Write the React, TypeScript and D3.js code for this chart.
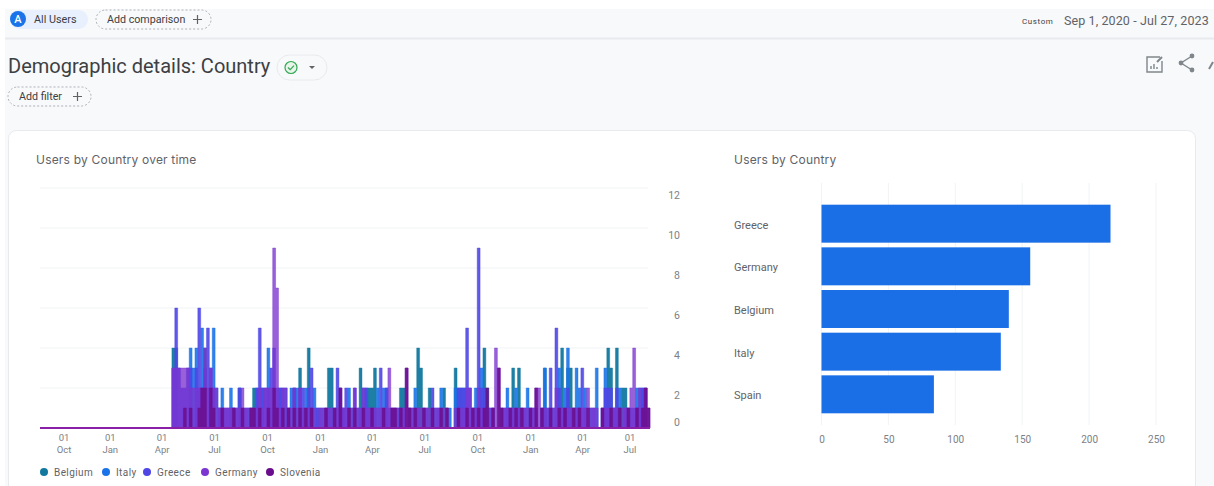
import * as d3 from "d3";
import React, { useEffect, useRef } from "react";

// 5 day buckets, first one starts at firstBucket
const rangeStart = new Date(2020, 8, 1);
const rangeEnd = new Date(2023, 6, 27);
const firstBucket = new Date(2021, 3, 18);
const bucketDays = 5;

const belgium = [
    4,4,0,0,0,0,2,0,0,0, 1,4,0,0,0,0,0,0,0,0, 0,0,0,2,0,0,0,0,2,0, 0,0,0,0,0,0,0,0,0,1,
    0,0,2,0,3,1,0,4,0,0, 0,0,0,0,3,3,0,0,0,0, 0,0,0,0,0,3,0,0,2,2, 3,0,0,0,0,0,0,0,0,2,
    2,0,0,0,0,4,3,0,0,2, 0,0,0,0,2,0,0,0,3,0, 2,0,0,0,0,0,0,0,4,2, 0,0,0,0,0,0,0,0,3,0,
    3,0,0,0,0,0,0,0,0,3, 0,0,0,0,0,4,0,3,3,0, 0,0,0,0,0,0,0,0,0,0, 0,4,3,0,4,0,2,2,0,0,
    0,0,0,0,0,0,
];
const italy = [
    0,0,0,0,0,0,4,3,4,2, 5,0,0,2,5,2,1,2,0,0, 2,1,0,2,0,0,1,0,0,2, 1,2,0,4,1,0,0,2,0,2,
    0,2,0,2,0,0,2,0,0,2, 1,0,1,0,0,1,1,0,0,1, 0,2,1,0,1,0,2,2,0,0, 0,2,0,2,2,0,1,0,1,0,
    0,0,1,0,2,0,0,1,0,0, 0,1,0,2,0,1,1,0,2,2, 0,2,0,0,1,2,1,3,0,0, 1,0,0,0,1,0,2,1,0,2,
    0,1,0,2,1,0,0,0,1,3, 1,0,1,0,3,0,2,4,0,1, 3,2,0,2,0,1,0,3,0,1, 3,0,0,1,0,2,0,0,1,0,
    0,2,2,2,0,0,
];
const greece = [
    3,6,3,2,2,3,3,0,3,6, 2,3,5,3,2,0,1,1,1,1, 1,1,1,2,1,1,0,1,1,2, 5,2,2,2,3,4,2,2,2,0,
    1,0,2,0,2,2,0,2,3,0, 1,1,0,1,1,0,0,3,2,1, 2,0,0,2,0,1,0,2,1,1, 1,0,3,0,2,1,0,1,0,1,
    1,0,0,1,0,1,0,0,1,0, 2,0,1,0,0,0,0,0,0,2, 2,2,5,2,0,1,9,2,2,0, 0,1,0,0,0,1,1,0,1,0,
    1,0,1,0,0,1,1,0,0,1, 0,3,0,5,2,1,1,2,1,0, 1,1,3,1,0,0,1,0,0,0, 2,2,2,1,2,1,0,1,0,1,
    1,1,1,2,2,0,
];
const germany = [
    3,3,3,3,3,3,2,2,2,2, 2,4,2,3,2,2,1,1,1,1, 1,1,1,1,2,1,1,1,1,1, 2,1,2,2,2,9,7,1,2,2,
    1,1,2,1,2,1,1,1,1,1, 0,1,1,1,1,1,1,1,2,1, 1,1,1,2,1,1,2,1,1,1, 1,1,1,1,1,3,1,1,1,1,
    1,3,1,1,1,1,1,1,1,1, 1,1,1,1,1,1,0,0,1,1, 1,1,2,2,1,1,2,1,1,1, 1,1,4,3,1,1,1,1,1,1,
    1,1,1,1,1,1,2,2,1,1, 1,1,1,2,1,1,1,1,1,1, 1,1,1,1,2,1,1,1,0,1, 1,1,1,1,1,1,1,1,1,2,
    4,1,2,1,2,1,
];
const slovenia = [
    0,0,0,0,1,0,1,0,0,1, 2,2,0,2,1,0,0,1,0,0, 0,1,0,0,1,0,0,1,1,0, 1,0,0,1,0,2,1,0,1,0,
    1,0,1,0,1,0,1,0,1,0, 0,0,0,1,0,0,1,0,2,0, 0,1,0,1,0,0,1,0,0,1, 0,0,0,1,0,0,1,1,0,1,
    0,3,1,0,1,0,0,1,0,0, 1,0,0,1,0,1,0,0,0,1, 0,0,1,0,1,0,1,0,1,2, 0,1,0,3,1,0,0,1,0,1,
    0,1,0,0,1,0,2,0,1,0, 0,1,0,0,1,0,1,0,0,1, 0,1,0,0,1,0,0,0,0,1, 0,0,1,0,0,1,0,0,1,0,
    0,1,0,1,2,1,
];

const seriesNames = ["Belgium", "Italy", "Greece", "Germany", "Slovenia"];
const seriesValues = [belgium, italy, greece, germany, slovenia];
const seriesColors = ["#12789f", "#1a73e8", "#4f46e5", "#7b35d0", "#6a0d8c"];
const seriesOpacity = [0.95, 0.9, 0.9, 0.78, 0.85];
const legendTextX = [54, 116, 157, 215, 280];

const timeTicks = [
    new Date(2020, 9, 1), new Date(2021, 0, 1), new Date(2021, 3, 1), new Date(2021, 6, 1),
    new Date(2021, 9, 1), new Date(2022, 0, 1), new Date(2022, 3, 1), new Date(2022, 6, 1),
    new Date(2022, 9, 1), new Date(2023, 0, 1), new Date(2023, 3, 1), new Date(2023, 6, 1),
];
const yTicks = [0, 2, 4, 6, 8, 10, 12];

const barCountries = ["Greece", "Germany", "Belgium", "Italy", "Spain"];
const barValues = [216, 156, 140, 134, 84];
const barTicks = [0, 50, 100, 150, 200, 250];

const font = "Roboto, sans-serif";
const grey = "#5f6368";
const tickGrey = "#7c8186";

type Pt = { date: Date; value: number };

function toPoints(values: number[]): Pt[] {
    const pts: Pt[] = [{ date: rangeStart, value: 0 }];
    values.forEach((v, i) => {
        pts.push({ date: d3.timeDay.offset(firstBucket, i * bucketDays), value: v });
    });
    pts.push({ date: rangeEnd, value: 0 });
    return pts;
}

function drawLeft(svg: d3.Selection<SVGSVGElement, unknown, null, undefined>) {
    const x = d3.scaleTime().domain([rangeStart, rangeEnd]).range([40, 650]);
    const y = d3.scaleLinear().domain([0, 12]).range([428, 188]);

    const g = svg.append("g");

    yTicks.forEach((t) => {
        g.append("line")
            .attr("x1", 40)
            .attr("x2", 648)
            .attr("y1", y(t))
            .attr("y2", y(t))
            .attr("stroke", "#f1f3f4");
        g.append("text")
            .attr("x", 680)
            .attr("y", y(t) + (t === 0 ? -2 : 11))
            .attr("text-anchor", "end")
            .attr("font-size", 10.5)
            .attr("fill", tickGrey)
            .text(t);
    });

    const area = d3
        .area<Pt>()
        .x((d) => x(d.date))
        .y0(y(0))
        .y1((d) => y(d.value))
        .curve(d3.curveStepAfter);

    seriesValues.forEach((values, i) => {
        g.append("path")
            .datum(toPoints(values))
            .attr("d", area)
            .attr("fill", seriesColors[i])
            .attr("fill-opacity", seriesOpacity[i])
            .attr("stroke", seriesColors[i])
            .attr("stroke-opacity", 0.7)
            .attr("stroke-width", 0.6);
    });

    g.append("line")
        .attr("x1", x(rangeStart))
        .attr("x2", x(rangeEnd))
        .attr("y1", y(0))
        .attr("y2", y(0))
        .attr("stroke", "#8a1fa8")
        .attr("stroke-width", 2);

    timeTicks.forEach((t) => {
        // end labels get pushed inwards so they stay in the plot
        const tx = Math.min(Math.max(x(t), 64), 630);
        const label = g
            .append("text")
            .attr("text-anchor", "middle")
            .attr("font-size", 9.5)
            .attr("fill", tickGrey);
        label.append("tspan").attr("x", tx).attr("y", 441).text("01");
        label.append("tspan").attr("x", tx).attr("y", 453).text(d3.timeFormat("%b")(t));
    });

    seriesNames.forEach((name, i) => {
        g.append("circle")
            .attr("cx", legendTextX[i] - 10)
            .attr("cy", 472)
            .attr("r", 4)
            .attr("fill", seriesColors[i]);
        g.append("text")
            .attr("x", legendTextX[i])
            .attr("y", 475.5)
            .attr("font-size", 10)
            .attr("letter-spacing", 0.4)
            .attr("fill", grey)
            .text(name);
    });
}

function drawRight(svg: d3.Selection<SVGSVGElement, unknown, null, undefined>) {
    const x = d3.scaleLinear().domain([0, 250]).range([821.5, 1156]);
    const y = d3.scaleBand<string>().domain(barCountries).range([200, 418]).padding(0.11);

    const g = svg.append("g");

    barTicks.forEach((t) => {
        g.append("line")
            .attr("x1", x(t))
            .attr("x2", x(t))
            .attr("y1", 183)
            .attr("y2", 425)
            .attr("stroke", "#f1f3f4");
    });

    g.selectAll("rect.bar")
        .data(barCountries)
        .join("rect")
        .attr("class", "bar")
        .attr("x", x(0))
        .attr("y", (d) => y(d) as number)
        .attr("width", (d, i) => x(barValues[i]) - x(0))
        .attr("height", y.bandwidth())
        .attr("fill", "#1a6fe6");

    const bottom = g
        .append("g")
        .attr("transform", "translate(0,431)")
        .call(d3.axisBottom(x).tickValues(barTicks).tickSize(0).tickPadding(5));
    bottom.select(".domain").remove();
    bottom.selectAll("text").attr("font-size", 10).attr("font-family", font).attr("fill", tickGrey);

    barCountries.forEach((name) => {
        g.append("text")
            .attr("x", 734)
            .attr("y", (y(name) as number) + y.bandwidth() / 2 + 5)
            .attr("font-size", 11)
            .attr("fill", grey)
            .text(name);
    });
}

const Pill: React.FC<{ x: number; y: number; w: number; label: string }> = ({ x, y, w, label }) => (
    <g>
        <rect x={x} y={y} width={w} height={19} rx={9.5} fill="#f8f9fa" stroke="#9aa0a6" strokeDasharray="2 2" strokeWidth={0.8} />
        <text x={x + 11} y={y + 13} fontSize={10.7} fill="#3c4043">{label}</text>
        <path d={`M${x + w - 18} ${y + 9.5}h9M${x + w - 13.5} ${y + 5}v9`} stroke="#5f6368" strokeWidth={1.2} />
    </g>
);

const App: React.FC = () => {
    const ref = useRef<SVGSVGElement>(null);

    useEffect(() => {
        if (!ref.current) return;
        const svg = d3.select(ref.current);
        svg.select("#charts").remove();
        const charts = svg.append("g").attr("id", "charts") as any;
        drawLeft(charts);
        drawRight(charts);
    }, []);

    return (
        <svg
            ref={ref}
            width={1214}
            height={486}
            fontFamily={font}
            style={{ position: "absolute", left: 0, top: 0, display: "block", background: "#fff" }}
        >
            <rect x={5} y={9} width={1209} height={477} fill="#f8f9fa" />
            <rect x={5} y={37.5} width={1209} height={2} fill="#e8eaed" />

            <rect x={10} y={10} width={78} height={19} rx={9.5} fill="#e8f0fe" />
            <circle cx={18} cy={19} r={8} fill="#1a73e8" />
            <text x={18} y={23} fontSize={11} fontWeight={500} fill="#fff" textAnchor="middle">A</text>
            <text x={34} y={23} fontSize={10.8} fill="#3c4043">All Users</text>
            <Pill x={96} y={10} w={115} label="Add comparison" />

            <text x={1022} y={24} fontSize={8} letterSpacing={0.6} fill="#3c4043">Custom</text>
            <text x={1064} y={25} fontSize={12.5} letterSpacing={0.1} fill="#5f6368">Sep 1, 2020 - Jul 27, 2023</text>

            <text x={8} y={73} fontSize={20} fill="#3c4043">Demographic details: Country</text>
            <rect x={277} y={55} width={50} height={25} rx={12.5} fill="#f8f9fa" stroke="#e8eaed" />
            <circle cx={291} cy={67.5} r={6} fill="#e6f4ea" stroke="#34a853" strokeWidth={1.2} />
            <path d="M288 67.5l2.2 2.2 3.8-4" fill="none" stroke="#34a853" strokeWidth={1.2} />
            <path d="M309 66h6l-3 3z" fill="#5f6368" />
            <Pill x={8} y={87} w={83} label="Add filter" />

            <g fill="none" stroke="#80868b" strokeWidth={1.4}>
                <path d="M1160 57h-13v15h15v-11" />
                <path d="M1151 69v-3M1154 69v-5M1157 69v-2" />
                <path d="M1157 62l5-5" strokeWidth={2} />
                <path d="M1192 56l-11 7 11 7" />
                <path d="M1209 69l4-7" strokeWidth={2} />
            </g>
            <g fill="#80868b">
                <circle cx={1192} cy={56} r={2.4} />
                <circle cx={1181} cy={63} r={2.4} />
                <circle cx={1192} cy={70} r={2.4} />
            </g>

            <rect x={8.5} y={130.5} width={1187} height={370} rx={8} fill="#fff" stroke="#e8eaed" />
            <text x={36} y={164} fontSize={12} letterSpacing={0.2} fontFamily="Inter, sans-serif" fill="#5f6368">Users by Country over time</text>
            <text x={734} y={164} fontSize={12} letterSpacing={0.2} fontFamily="Inter, sans-serif" fill="#5f6368">Users by Country</text>
        </svg>
    );
};

export default App;
